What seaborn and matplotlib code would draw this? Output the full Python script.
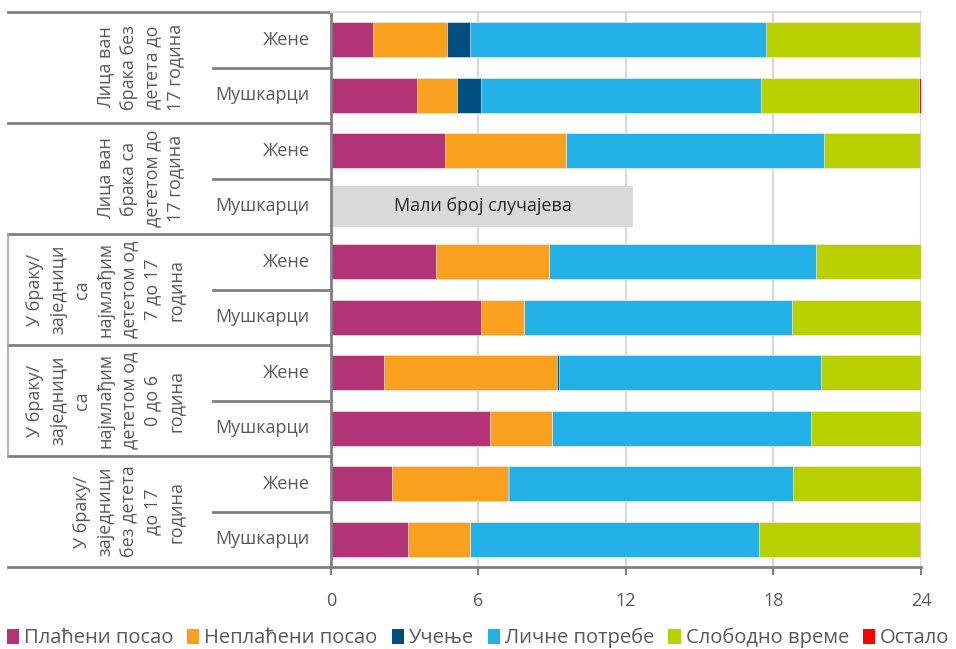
import numpy as np
import pandas as pd
import matplotlib
matplotlib.use("Agg")
import matplotlib.pyplot as plt
import matplotlib.transforms as mtransforms
from matplotlib.patches import Patch
import seaborn as sns

# data (hours per day)
groups = [
    "Лица ван\nбрака без\nдетета до\n17 година",
    "Лица ван\nбрака са\nдететом до\n17 година",
    "У браку/\nзаједници\nса\nнајмлађим\nдететом од\n7 до 17\nгодина",
    "У браку/\nзаједници\nса\nнајмлађим\nдететом од\n0 до 6\nгодина",
    "У браку/\nзаједници\nбез детета\nдо 17\nгодина",
]
sexes = ["Жене", "Мушкарци"] * 5
categories = ["Плаћени посао", "Неплаћени посао", "Учење", "Личне потребе", "Слободно време", "Остало"]
colors = ["#B23476", "#F9A11E", "#004F80", "#22B0E6", "#B8D000", "#FF0000"]

paid     = [1.71, 3.50, 4.64, np.nan, 4.27, 6.10, 2.16, 6.47, 2.48, 3.15]
unpaid   = [3.01, 1.63, 4.93, np.nan, 4.61, 1.74, 7.05, 2.51, 4.73, 2.52]
study    = [0.94, 0.97, 0.00, np.nan, 0.00, 0.00, 0.07, 0.00, 0.05, 0.00]
personal = [12.05, 11.39, 10.50, np.nan, 10.85, 10.93, 10.65, 10.55, 11.52, 11.73]
free     = [6.25, 6.42, 3.88, np.nan, 4.25, 5.23, 4.07, 4.45, 5.20, 6.55]
other    = [0.04, 0.09, 0.05, np.nan, 0.02, 0.00, 0.00, 0.02, 0.02, 0.05]

note_text = "Мали број случајева"
note_row = 3
note_span = (0.1, 12.3)

df = pd.DataFrame({"row": [str(i) for i in range(10)]})
for name, vals in zip(categories, [paid, unpaid, study, personal, free, other]):
    df[name] = vals
cum = df[categories].cumsum(axis=1)

plt.rcParams["font.family"] = ["Open Sans", "DejaVu Sans"]
txt = "#595959"
fig, ax = plt.subplots(figsize=(9.56, 6.49), dpi=100)
fig.subplots_adjust(left=0.3462, right=0.9634, bottom=0.1263, top=0.9815)

order = df["row"].tolist()
for name, c in reversed(list(zip(categories, colors))):
    sns.barplot(x=cum[name], y=df["row"], order=order, color=c, orient="h",
                width=0.63, edgecolor="white", linewidth=0.4, saturation=1, ax=ax)

# note box for the row with too few cases
ax.barh(note_row, note_span[1] - note_span[0], left=note_span[0], height=0.74,
        color="#D9D9D9", zorder=1)
ax.text(sum(note_span) / 2, note_row, note_text, ha="center", va="center",
        fontsize=13, color="#262626")

ax.set_xlim(0, 24)
ax.set_ylim(9.5, -0.5)
ax.set_xticks([0, 6, 12, 18, 24])
ax.set_xticklabels(["0", "6", "12", "18", "24"], fontsize=13, color=txt)
ax.set_yticks([])
ax.set_xlabel("")
ax.set_ylabel("")
ax.tick_params(axis="x", length=6, width=1.5, color="#808080", pad=12)
ax.grid(axis="x", color="#D9D9D9", linewidth=1.5)
ax.set_axisbelow(True)
ax.spines["right"].set_visible(False)
ax.spines["top"].set_color("#D9D9D9")
ax.spines["top"].set_linewidth(1.5)
for s in ["left", "bottom"]:
    ax.spines[s].set_color("#808080")
    ax.spines[s].set_linewidth(2)

# multi-level category labels
tr = mtransforms.blended_transform_factory(ax.transAxes, ax.transData)
line_kw = dict(color="#808080", linewidth=2, transform=tr, clip_on=False)
for i, s in enumerate(sexes):
    ax.text(-0.036, i, s, ha="right", va="center", fontsize=13, color=txt, transform=tr)
for g, label in enumerate(groups):
    ax.text(-0.248, 2 * g + 0.5, label, rotation=90, ha="right", va="center",
            multialignment="center", fontsize=13, color=txt, linespacing=1.38,
            transform=tr)
    ax.plot([-0.2, 0], [2 * g + 0.5] * 2, **line_kw)
for y in [-0.5, 1.5, 3.5, 5.5, 7.5, 9.5]:
    ax.plot([-0.547, 0], [y, y], **line_kw)
ax.plot([-0.547, -0.547], [3.5, 7.5], color="#A6A6A6", linewidth=1.2,
        transform=tr, clip_on=False)

handles = [Patch(facecolor=c, label=n) for n, c in zip(categories, colors)]
fig.legend(handles=handles, loc="lower center", bbox_to_anchor=(0.5, -0.027), ncol=6,
           frameon=False, fontsize=14.5, handlelength=0.6, handleheight=0.8,
           handletextpad=0.25, columnspacing=0.7, labelcolor=txt)

fig.savefig("out.png", dpi=100)
